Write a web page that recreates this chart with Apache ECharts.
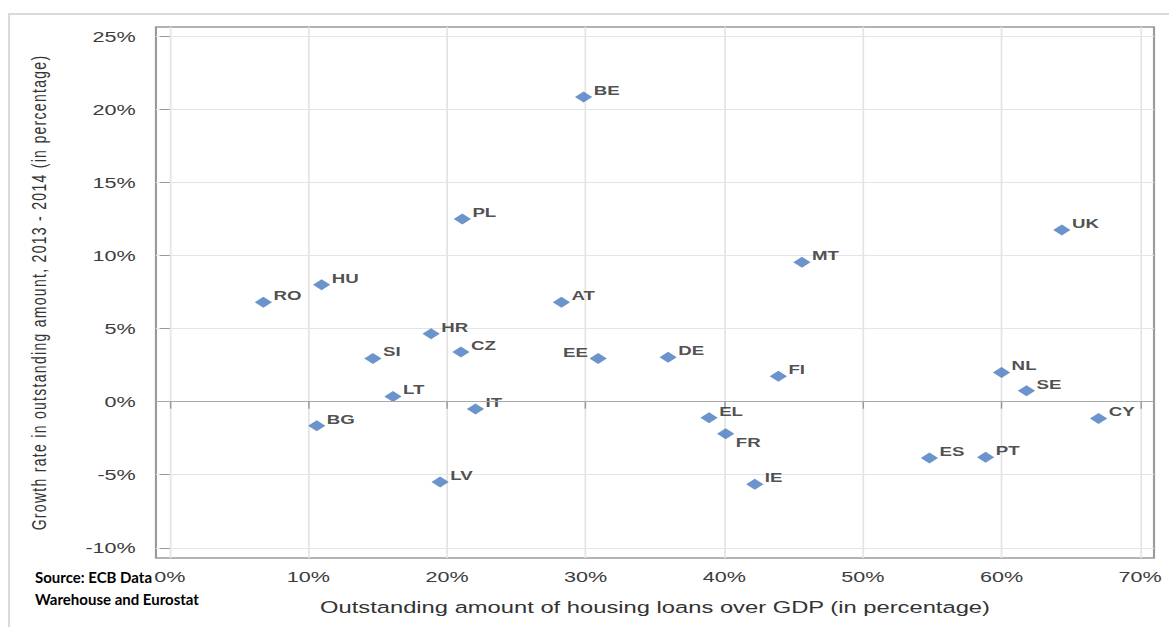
<!DOCTYPE html>
<html>
<head>
<meta charset="utf-8">
<script src="https://cdn.jsdelivr.net/npm/echarts@6/dist/echarts.min.js"></script>
<style>
  html, body { margin: 0; padding: 0; background: #fff; }
  body { width: 1169px; height: 627px; position: relative; overflow: hidden; }
  .frame {
    position: absolute; left: 8px; top: 13px; right: -4px; bottom: -4px;
    border-left: 2px solid #dadada; border-top: 2px solid #dadada;
  }
  /* the source picture is stretched sideways, so the chart is drawn narrow and widened */
  #chart {
    position: absolute; left: 0; top: 0; width: 812px; height: 627px;
    transform: scaleX(1.44); transform-origin: 0 0;
  }
  #chart text[style*="Liberation"] { letter-spacing: 1.3px; }
  .source {
    position: absolute; left: 35px; top: 566px;
    font: bold 15px Lato, 'Noto Sans', sans-serif; line-height: 22px; color: #000;
  }
</style>
</head>
<body>
<div class="frame"></div>
<div id="chart"></div>
<div class="source">Source: ECB Data<br>Warehouse and Eurostat</div>
<script>
const countries = ['RO', 'HU', 'BG', 'SI', 'LT', 'HR', 'LV', 'CZ', 'PL', 'IT', 'AT', 'BE', 'EE',
  'DE', 'EL', 'FR', 'IE', 'FI', 'MT', 'ES', 'PT', 'NL', 'SE', 'UK', 'CY']
const loansToGdp = [6.75, 10.95, 10.6, 14.65, 16.1, 18.85, 19.5, 21.0, 21.1, 22.05, 28.25, 29.85, 30.9,
  35.95, 38.9, 40.1, 42.2, 43.9, 45.6, 54.8, 58.85, 60.0, 61.8, 64.35, 67.0]
const growthRate = [6.8, 8.0, -1.65, 2.95, 0.35, 4.65, -5.5, 3.4, 12.5, -0.5, 6.8, 20.85, 2.95,
  3.05, -1.1, -2.2, -5.65, 1.75, 9.55, -3.85, -3.8, 2.0, 0.75, 11.75, -1.15]
const xTicks = [0, 10, 20, 30, 40, 50, 60, 70]
const yTicks = [-10, -5, 0, 5, 10, 15, 20, 25]

const chart = echarts.init(document.getElementById('chart'), null, { renderer: 'svg' })

function labelFor(name) {
  if (name === 'EE') {
    return { position: 'left', distance: 1, offset: [0, -6] }
  }
  if (name === 'FR') {
    return { position: 'right', distance: 1, offset: [0, 8] }
  }
  return {}
}

const points = countries.map((name, i) => ({
  name,
  value: [loansToGdp[i], growthRate[i]],
  label: labelFor(name)
}))

const tickLabel = {
  formatter: '{value}%',
  fontFamily: 'Arial',
  fontSize: 15,
  color: '#3c3c3c'
}

chart.setOption({
  animation: false,
  grid: {
    show: true,
    left: 108.3,
    right: 10.6,
    top: 27,
    bottom: 69,
    borderColor: '#9a9a9a',
    borderWidth: 1.5
  },
  xAxis: {
    type: 'value',
    min: -1,
    max: 71,
    splitNumber: 7,
    name: 'Outstanding amount of housing loans over GDP (in percentage)',
    nameLocation: 'middle',
    nameGap: 40,
    nameTextStyle: { fontFamily: 'Arial', fontSize: 16.5, color: '#333' },
    axisLine: { show: false },
    axisTick: { show: true, length: 7, customValues: xTicks, lineStyle: { color: '#999' } },
    axisLabel: Object.assign({ customValues: xTicks, margin: 11 }, tickLabel),
    splitLine: { lineStyle: { color: '#e4e4e4', width: 1.2 } }
  },
  yAxis: {
    type: 'value',
    min: -10.7,
    max: 25.65,
    splitNumber: 7,
    name: 'Growth rate in outstanding amount, 2013 - 2014 (in percentage)',
    nameLocation: 'middle',
    nameGap: 74,
    nameTextStyle: { fontFamily: 'Liberation Sans', fontSize: 14, color: '#333' },
    axisLine: { show: false },
    axisTick: { show: true, length: 7, customValues: yTicks, lineStyle: { color: '#999' } },
    axisLabel: Object.assign({ customValues: yTicks, margin: 14 }, tickLabel),
    splitLine: { lineStyle: { color: '#e4e4e4', width: 1.2 } }
  },
  series: [
    {
      type: 'scatter',
      symbol: 'diamond',
      symbolSize: [12, 11],
      itemStyle: { color: '#4679bf' },
      label: {
        show: true,
        formatter: '{b}',
        position: 'right',
        distance: 1,
        offset: [0, -7],
        fontFamily: 'Arial',
        fontSize: 13,
        fontWeight: 'bold',
        color: '#222'
      },
      data: points,
      markLine: {
        silent: true,
        symbol: ['none', 'none'],
        label: { show: false },
        lineStyle: { color: '#a8a8a8', type: 'solid', width: 1.2 },
        data: [{ yAxis: 0 }]
      }
    }
  ]
})
</script>
</body>
</html>
